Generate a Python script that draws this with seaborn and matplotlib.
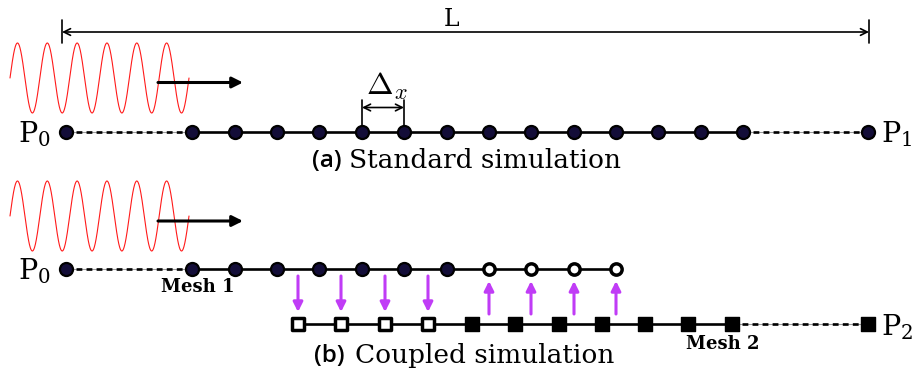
import numpy as np
import pandas as pd
import matplotlib
matplotlib.use("Agg")
import matplotlib.pyplot as plt
import seaborn as sns

# ---- geometry of the two set-ups (horizontal positions along the rod) ----
row_std = 131.5          # standard simulation line
row_mesh1 = 269.0        # coupled: mesh 1
row_mesh2 = 324.0        # coupled: mesh 2

p0_x = 66
p_end_x = 868
std_nodes = [192, 235, 277, 319, 362, 404, 447, 489, 531, 574, 616, 658, 701, 743]
mesh1_nodes = [192, 235, 277, 319, 362, 404, 447]
mesh1_ghosts = [489, 531, 574, 616]
mesh2_ghosts = [298, 341, 385, 428]
mesh2_nodes = [472, 515, 559, 602, 645, 688, 732]

# incoming wave packet
wave_start, wave_end = 10, 189
wave_periods = 6
wave_amp = 35
wave_centres = [78, 216]
push_arrow = (158, 243)
push_rows = [82.5, 221]

NODE_FILL = "#130d38"
PURPLE = "#c03cf6"
SERIF = ["DejaVu Serif"]
SANS = ["Open Sans", "DejaVu Sans"]

sns.set_theme(style="white")
plt.rcParams["font.family"] = SERIF
plt.rcParams["mathtext.fontset"] = "dejavuserif"
plt.rcParams["text.color"] = "black"

fig = plt.figure(figsize=(9.15, 3.76), dpi=100)
ax = fig.add_axes([0, 0, 1, 1])
ax.set_xlim(0, 915)
ax.set_ylim(376, 0)
ax.axis("off")

LW = 1.9


def solid(x0, x1, y):
    sns.lineplot(x=[x0, x1], y=[y, y], ax=ax, color="black", lw=LW,
                 estimator=None, zorder=2)


def dashed(x0, x1, y):
    sns.lineplot(x=[x0, x1], y=[y, y], ax=ax, color="#9a9a9a", lw=0.8,
                 estimator=None, zorder=1)
    sns.lineplot(x=[x0, x1], y=[y, y], ax=ax, color="black", lw=LW,
                 estimator=None, zorder=2, dashes=[(2.2, 1.6)], style=[0, 0],
                 legend=False)


def dots(xs, y, marker, face, size=88, edge=1.6):
    df = pd.DataFrame({"x": xs, "y": [y] * len(xs)})
    sns.scatterplot(data=df, x="x", y="y", ax=ax, marker=marker, s=size,
                    color=face, edgecolor="black", linewidth=edge, zorder=4,
                    legend=False)


def wave(centre):
    xs = np.linspace(wave_start, wave_end, 600)
    period = (wave_end - wave_start) / wave_periods
    ys = centre - wave_amp * np.sin(2 * np.pi * (xs - wave_start) / period)
    sns.lineplot(x=xs, y=ys, ax=ax, color="#ff1a1a", lw=0.8, estimator=None,
                 sort=False, zorder=1)


def push(y):
    ax.annotate("", xy=(push_arrow[1], y), xytext=(push_arrow[0], y),
                arrowprops=dict(arrowstyle="-|>", color="black", lw=2.2,
                                mutation_scale=16, shrinkA=0, shrinkB=0),
                zorder=3)


def point_label(x, y, idx, ha):
    ax.text(x, y, "P$_{%d}$" % idx, ha=ha, va="center", fontsize=20.5)


# ---- domain length L ----
ax.annotate("", xy=(p_end_x + 1, 32), xytext=(p0_x - 4, 32),
            arrowprops=dict(arrowstyle="<->", color="black", lw=1.2,
                            mutation_scale=12, shrinkA=0, shrinkB=0))
for xt in (p0_x - 4, p_end_x + 1):
    sns.lineplot(x=[xt, xt], y=[20, 43], ax=ax, color="black", lw=1.2,
                 estimator=None, sort=False)
ax.text(452, 20, "L", ha="center", va="center", fontsize=17)

# ---- (a) standard simulation ----
wave(wave_centres[0])
push(push_rows[0])
dashed(p0_x, std_nodes[0], row_std)
solid(std_nodes[0], std_nodes[-1], row_std)
dashed(std_nodes[-1], p_end_x, row_std)
dots([p0_x] + std_nodes + [p_end_x], row_std, "o", NODE_FILL)

# grid spacing bracket
dx0, dx1 = std_nodes[4], std_nodes[5]
for xt in (dx0, dx1):
    sns.lineplot(x=[xt, xt], y=[100, row_std], ax=ax, color="black", lw=1.2,
                 estimator=None, sort=False)
ax.annotate("", xy=(dx1, 107.5), xytext=(dx0, 107.5),
            arrowprops=dict(arrowstyle="<->", color="black", lw=1.2,
                            mutation_scale=12, shrinkA=0, shrinkB=0))
ax.text(387, 86, r"$\Delta_x$", ha="center", va="center", fontsize=23,
        math_fontfamily="cm")

point_label(p0_x - 15, 134, 0, "right")
point_label(p_end_x + 13, 134, 1, "left")

ax.text(342, 161, "(a)", ha="right", va="center", fontsize=17.5,
        family=SANS, fontweight="semibold")
ax.text(349, 160, "Standard simulation", ha="left", va="center", fontsize=19)

# ---- (b) coupled simulation ----
wave(wave_centres[1])
push(push_rows[1])

dashed(p0_x, mesh1_nodes[0], row_mesh1)
solid(mesh1_nodes[0], mesh1_ghosts[-1], row_mesh1)
dots([p0_x] + mesh1_nodes, row_mesh1, "o", NODE_FILL)
dots(mesh1_ghosts, row_mesh1, "o", "white", size=66, edge=2.5)

solid(mesh2_ghosts[0], mesh2_nodes[-1], row_mesh2)
dashed(mesh2_nodes[-1], p_end_x, row_mesh2)
dots(mesh2_ghosts, row_mesh2, "s", "white", size=66, edge=2.5)
dots(mesh2_nodes + [p_end_x], row_mesh2, "s", "black", size=88, edge=1.0)

# data exchange between the meshes
for xg in mesh2_ghosts:
    ax.annotate("", xy=(xg, 312), xytext=(xg, 276),
                arrowprops=dict(arrowstyle="-|>", color=PURPLE, lw=2.2,
                                mutation_scale=14, shrinkA=0, shrinkB=0))
for xg in mesh1_ghosts:
    ax.annotate("", xy=(xg, 281), xytext=(xg, 314),
                arrowprops=dict(arrowstyle="-|>", color=PURPLE, lw=2.2,
                                mutation_scale=14, shrinkA=0, shrinkB=0))

point_label(p0_x - 15, 271, 0, "right")
point_label(p_end_x + 13, 327, 2, "left")

ax.text(198, 287, "Mesh 1", ha="center", va="center", fontsize=13,
        fontweight="bold")
ax.text(723, 344, "Mesh 2", ha="center", va="center", fontsize=13,
        fontweight="bold")

ax.text(345, 356, "(b)", ha="right", va="center", fontsize=17.5,
        family=SANS, fontweight="semibold")
ax.text(355, 355, "Coupled simulation", ha="left", va="center", fontsize=19)

fig.savefig("out.png", dpi=100)
